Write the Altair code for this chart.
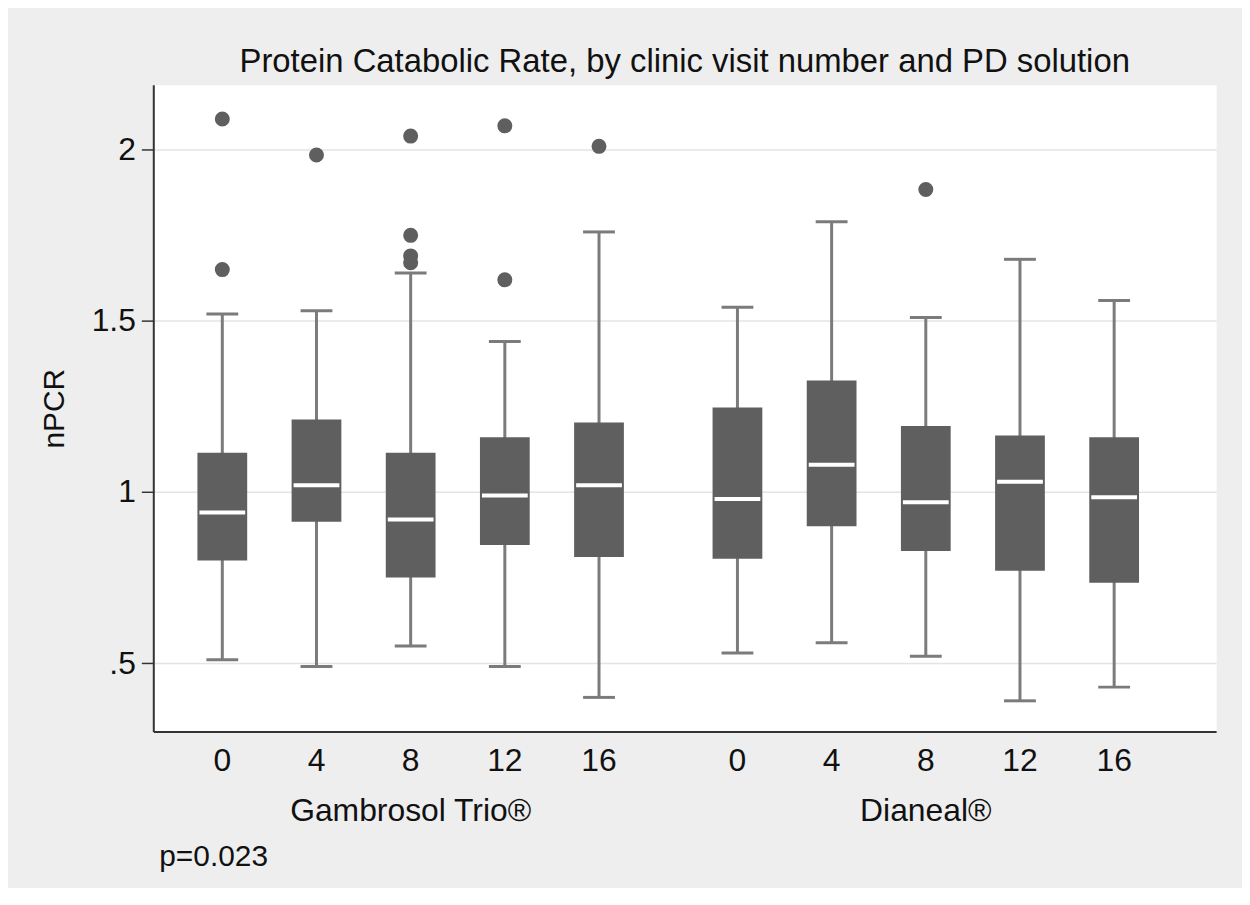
import altair as alt
import pandas as pd

# ---- data ----
groups = ["Gambrosol Trio®", "Dianeal®"]
visits = [0, 4, 8, 12, 16]

whisker_low = {
    "Gambrosol Trio®": [0.51, 0.49, 0.55, 0.49, 0.40],
    "Dianeal®": [0.53, 0.56, 0.52, 0.39, 0.43],
}
q1 = {
    "Gambrosol Trio®": [0.80, 0.913, 0.75, 0.845, 0.81],
    "Dianeal®": [0.805, 0.90, 0.828, 0.77, 0.735],
}
median = {
    "Gambrosol Trio®": [0.94, 1.02, 0.92, 0.99, 1.02],
    "Dianeal®": [0.98, 1.08, 0.97, 1.03, 0.985],
}
q3 = {
    "Gambrosol Trio®": [1.115, 1.212, 1.115, 1.16, 1.203],
    "Dianeal®": [1.247, 1.326, 1.193, 1.165, 1.16],
}
whisker_high = {
    "Gambrosol Trio®": [1.52, 1.53, 1.64, 1.44, 1.76],
    "Dianeal®": [1.54, 1.79, 1.51, 1.68, 1.56],
}
outlier_group = ["Gambrosol Trio®"] * 10 + ["Dianeal®"]
outlier_visit = [0, 0, 4, 8, 8, 8, 8, 12, 12, 16, 8]
outlier_value = [2.09, 1.65, 1.985, 2.04, 1.75, 1.69, 1.67, 2.07, 1.62, 2.01, 1.884]

y_ticks = [0.5, 1, 1.5, 2]
title_text = "Protein Catabolic Rate, by clinic visit number and PD solution"
y_title = "nPCR"
note_text = "p=0.023"

# ---- layout helpers (positions along a numeric x scale) ----
GROUP_GAP = 5.47
W, H = 1068, 650
FONT = "Liberation Sans"
BOX = "#5f5f5f"
WHISK = "#7b7b7b"
INK = "#111111"


def pos_of(g, v):
    return visits.index(v) + GROUP_GAP * groups.index(g)


rows = []
for g in groups:
    for i, v in enumerate(visits):
        rows.append(dict(group=g, visit=str(v), pos=pos_of(g, v),
                         low=whisker_low[g][i], q1=q1[g][i], med=median[g][i],
                         q3=q3[g][i], high=whisker_high[g][i]))
summary = pd.DataFrame(rows)

outliers = pd.DataFrame({"group": outlier_group, "visit": outlier_visit,
                         "value": outlier_value})
outliers["pos"] = [pos_of(g, v) for g, v in zip(outliers.group, outliers.visit)]

group_df = pd.DataFrame({"group": groups,
                         "pos": [GROUP_GAP * k + (len(visits) - 1) / 2 for k in range(len(groups))]})
note_df = pd.DataFrame({"note": [note_text]})

xscale = alt.Scale(domain=[-0.68, 10.5], nice=False, zero=False)
yscale = alt.Scale(domain=[0.3, 2.19], nice=False, zero=False)

X = alt.X("pos:Q", scale=xscale, title=None,
          axis=alt.Axis(labels=False, ticks=False, tickSize=0, grid=False,
                        domainColor="#333333", domainWidth=2))
Yaxis = alt.Axis(values=y_ticks, grid=True, gridColor="#e4e4e4", gridWidth=1.5,
                 labelExpr="datum.value == 0.5 ? '.5' : format(datum.value, '')",
                 labelFontSize=32, labelFont=FONT, labelColor=INK, labelPadding=6,
                 tickSize=12, tickColor="#333333", tickWidth=1.5,
                 domainColor="#333333", domainWidth=2,
                 titleFontSize=30, titleFont=FONT, titleFontWeight="normal",
                 titleColor=INK, titleAngle=270, titleX=-90, titleY=H / 2,
                 titleAlign="center", titleBaseline="alphabetic")

base = alt.Chart(summary)

whisker = base.mark_rule(color=WHISK, strokeWidth=3, opacity=1).encode(
    x=X, y=alt.Y("low:Q", scale=yscale, axis=Yaxis, title=y_title), y2="high:Q")
cap_low = base.mark_tick(color=WHISK, orient="horizontal", size=32, thickness=3,
                         opacity=1).encode(x="pos:Q", y="low:Q")
cap_high = base.mark_tick(color=WHISK, orient="horizontal", size=32, thickness=3,
                          opacity=1).encode(x="pos:Q", y="high:Q")
box = base.mark_bar(color=BOX, size=50, opacity=1).encode(x="pos:Q", y="q1:Q", y2="q3:Q")
med = base.mark_tick(color="white", orient="horizontal", size=46, thickness=4,
                     opacity=1).encode(x="pos:Q", y="med:Q")
visit_labels = base.mark_text(font=FONT, fontSize=32, color=INK, baseline="alphabetic",
                              align="center").encode(
    x="pos:Q", y=alt.value(H + 40), text="visit:N")

out_pts = alt.Chart(outliers).mark_circle(color=BOX, size=227, opacity=1).encode(
    x="pos:Q", y="value:Q")

group_labels = alt.Chart(group_df).mark_text(font=FONT, fontSize=32, color=INK,
                                             baseline="alphabetic", align="center").encode(
    x="pos:Q", y=alt.value(H + 90), text="group:N")

note = alt.Chart(note_df).mark_text(font=FONT, fontSize=30, color=INK,
                                    baseline="alphabetic", align="left").encode(
    x=alt.value(6), y=alt.value(H + 135), text="note:N")

chart = alt.layer(whisker, cap_low, cap_high, box, med, out_pts, visit_labels,
                  group_labels, note).properties(
    width=W, height=H,
    title=alt.TitleParams(text=title_text, font=FONT, fontSize=33, fontWeight="normal",
                          color=INK, anchor="middle", frame="group", offset=-20,
                          baseline="alphabetic"),
    background="#eeeeee",
    padding={"left": 146, "top": 75, "right": 26, "bottom": 155},
    autosize=alt.AutoSizeParams(type="none"),
).configure_view(fill="white", stroke="transparent")

chart.save("out.html", embed_options={"renderer": "svg", "actions": False})
